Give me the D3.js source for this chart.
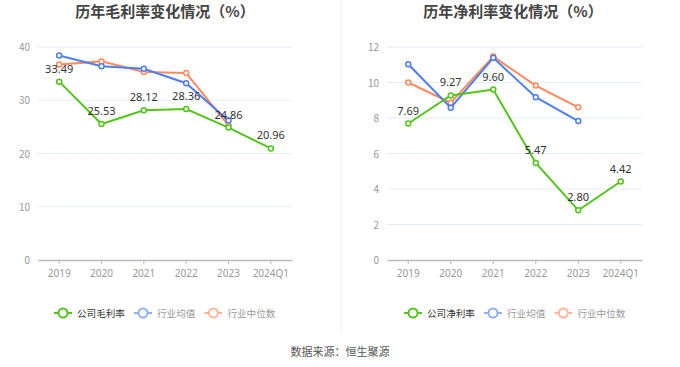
<!DOCTYPE html>
<html>
<head>
<meta charset="utf-8">
<script src="https://cdn.jsdelivr.net/npm/d3@7"></script>
<style>
  body { margin: 0; background: #fff; font-family: "Noto Sans CJK SC", "Noto Sans", sans-serif; }
</style>
</head>
<body>
<div id="chart"></div>
<script>
// data
var years = ["2019", "2020", "2021", "2022", "2023", "2024Q1"];

var grossCompany = [33.49, 25.53, 28.12, 28.36, 24.86, 20.96];
var grossIndustryAvg = [38.4, 36.4, 35.9, 33.2, 26.2, null];
var grossIndustryMedian = [36.7, 37.3, 35.3, 35.1, 25.3, null];
var grossTicks = [0, 10, 20, 30, 40];

var netCompany = [7.69, 9.27, 9.60, 5.47, 2.80, 4.42];
var netIndustryAvg = [11.03, 8.58, 11.39, 9.17, 7.83, null];
var netIndustryMedian = [10.0, 8.86, 11.46, 9.83, 8.6, null];
var netTicks = [0, 2, 4, 6, 8, 10, 12];

var svgWidth = 680;
var svgHeight = 367;

var colors = { company: "#52c41a", avg: "#4d7ff0", median: "#ff8a5c" };
var legendColors = { company: "#52c41a", avg: "#8fb0f5", median: "#ffb59a" };

var svg = d3.select("#chart").append("svg")
  .attr("width", svgWidth)
  .attr("height", svgHeight);

// divider between the two panels
svg.append("line")
  .attr("x1", 341).attr("x2", 341)
  .attr("y1", 0).attr("y2", 334)
  .attr("stroke", "#f0f0f0");

function drawPanel(opts) {
  var g = svg.append("g");
  var left = opts.left, right = opts.right, top = 47, bottom = 260;

  var xScale = d3.scaleBand().domain(years).range([left, right]);
  var yScale = d3.scaleLinear().domain([0, opts.max]).range([bottom, top]);

  // title
  g.append("text")
    .attr("x", opts.titleX).attr("y", 17)
    .attr("text-anchor", "middle")
    .attr("font-size", 15).attr("font-weight", "bold")
    .attr("fill", "#444")
    .text(opts.title);

  // grid
  g.selectAll(".grid").data(opts.ticks.filter(d => d > 0)).enter()
    .append("line")
    .attr("x1", left).attr("x2", right)
    .attr("y1", d => yScale(d)).attr("y2", d => yScale(d))
    .attr("stroke", "#e6ecf5");

  // y labels
  g.selectAll(".ylab").data(opts.ticks).enter()
    .append("text")
    .attr("x", left - 8).attr("y", d => yScale(d) + 4)
    .attr("text-anchor", "end")
    .attr("font-size", 10).attr("fill", "#999")
    .text(d => d);

  // x axis
  var xAxis = d3.axisBottom(xScale).tickSize(4).tickSizeOuter(0);
  var ax = g.append("g")
    .attr("transform", `translate(0, ${bottom})`)
    .call(xAxis);
  ax.select(".domain").attr("stroke", "#bbb").attr("stroke-width", 1.5);
  ax.selectAll(".tick line").attr("stroke", "#bbb");
  ax.selectAll("text").attr("fill", "#999").attr("font-size", 10)
    .attr("dy", "0.95em")
    .attr("font-family", "\"Noto Sans\", sans-serif");

  var cx = i => xScale(years[i]) + xScale.bandwidth() / 2;

  var series = [
    { values: opts.median, color: colors.median },
    { values: opts.avg, color: colors.avg },
    { values: opts.company, color: colors.company }
  ];

  series.forEach(function(s) {
    var pts = s.values.map((v, i) => ({ v: v, i: i })).filter(d => d.v != null);
    var line = d3.line().x(d => cx(d.i)).y(d => yScale(d.v));
    g.append("path")
      .datum(pts)
      .attr("d", line)
      .attr("fill", "none")
      .attr("stroke", s.color)
      .attr("stroke-width", 2);
    g.selectAll(null).data(pts).enter()
      .append("circle")
      .attr("cx", d => cx(d.i)).attr("cy", d => yScale(d.v))
      .attr("r", 2.5)
      .attr("fill", "#fff")
      .attr("stroke", s.color)
      .attr("stroke-width", 1.5);
  });

  // value labels for company
  g.selectAll(".vlab").data(opts.company).enter()
    .append("text")
    .attr("x", (d, i) => cx(i)).attr("y", d => yScale(d) - 9)
    .attr("text-anchor", "middle")
    .attr("font-size", 11).attr("fill", "#333")
    .attr("font-family", "\"Noto Sans\", sans-serif")
    .text(d => d.toFixed(2));

  // legend
  var legendItems = [
    { name: opts.companyName, color: legendColors.company, text: "#333" },
    { name: "行业均值", color: legendColors.avg, text: "#999" },
    { name: "行业中位数", color: legendColors.median, text: "#999" }
  ];
  var lg = g.append("g").attr("transform", `translate(${opts.legendX}, 313)`);
  var offset = 0;
  legendItems.forEach(function(item) {
    var it = lg.append("g").attr("transform", `translate(${offset}, 0)`);
    it.append("line").attr("x1", 0).attr("x2", 18).attr("y1", 0).attr("y2", 0)
      .attr("stroke", item.color).attr("stroke-width", 2);
    it.append("circle").attr("cx", 9).attr("cy", 0).attr("r", 4.5)
      .attr("fill", "#fff").attr("stroke", item.color).attr("stroke-width", 2);
    it.append("text").attr("x", 23).attr("y", 3.5)
      .attr("font-size", 9.6).attr("fill", item.text)
      .text(item.name);
    offset += 23 + item.name.length * 9.6 + 9;
  });
}

drawPanel({
  left: 38, right: 292, max: 40, ticks: grossTicks,
  title: "历年毛利率变化情况（%）", titleX: 165,
  company: grossCompany, avg: grossIndustryAvg, median: grossIndustryMedian,
  companyName: "公司毛利率", legendX: 54
});

drawPanel({
  left: 387, right: 642, max: 12, ticks: netTicks,
  title: "历年净利率变化情况（%）", titleX: 513,
  company: netCompany, avg: netIndustryAvg, median: netIndustryMedian,
  companyName: "公司净利率", legendX: 404
});

// source
svg.append("text")
  .attr("x", 340).attr("y", 356)
  .attr("text-anchor", "middle")
  .attr("font-size", 11).attr("fill", "#555")
  .text("数据来源：恒生聚源");
</script>
</body>
</html>
